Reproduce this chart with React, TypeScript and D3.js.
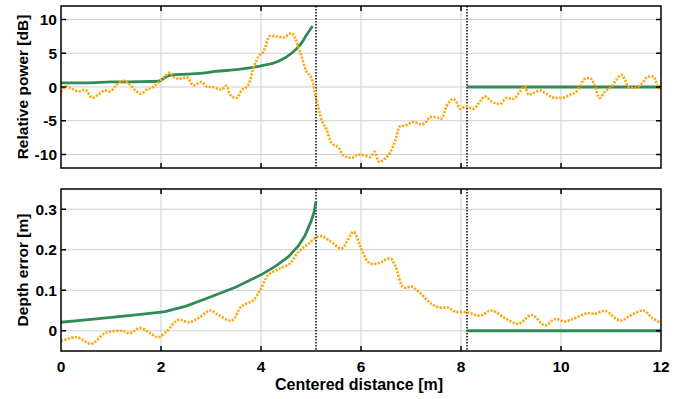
import { useEffect, useRef } from 'react';
import * as d3 from 'd3';

// x ticks shared by both panels
const xTicks = [0, 2, 4, 6, 8, 10, 12];
const powerTicks = [-10, -5, 0, 5, 10];
const depthTicks = [0, 0.1, 0.2, 0.3];
const boundaries = [5.1, 8.12];

// top panel: relative power [dB]
const powerModel: [number, number][] = [
  [0, 0.6], [0.5, 0.62], [1.0, 0.75], [1.5, 0.78], [1.95, 0.85], [2.1, 1.5], [2.2, 1.75],
  [2.5, 1.9], [2.88, 2.1], [3.08, 2.3], [3.55, 2.6], [3.98, 3.1], [4.35, 3.8], [4.61, 5.0],
  [4.81, 6.5], [4.91, 7.7], [5.03, 9.05],
];
const powerModelFar: [number, number][] = [[8.12, 0], [12, 0]];
const powerMeasured: [number, number][] = [
  [0, -0.8], [0.11, 0.09], [0.21, -0.25], [0.35, -0.65], [0.48, -0.4], [0.63, -1.6],
  [0.75, -1.1], [0.88, -0.5], [0.98, -0.65], [1.11, 0.34], [1.25, 0.93], [1.38, 0.34],
  [1.51, -0.65], [1.6, -1.0], [1.71, -0.4], [1.81, -0.15], [1.95, 0.68], [2.08, 1.56],
  [2.18, 2.15], [2.28, 1.33], [2.41, 1.23], [2.51, 1.48], [2.65, 0.24], [2.81, 0.74],
  [2.91, 0.09], [3.05, -0.05], [3.21, -0.4], [3.31, 0.19], [3.38, -1.14], [3.51, -1.63],
  [3.61, -0.5], [3.75, 0.34], [3.85, 2.8], [3.95, 4.52], [4.05, 5.26], [4.18, 7.58],
  [4.35, 7.47], [4.45, 7.33], [4.61, 7.98], [4.68, 7.24], [4.78, 5.26], [4.91, 2.3],
  [5.01, 1.33], [5.11, -1.88], [5.21, -4.83], [5.31, -6.3], [5.41, -8.27], [5.55, -9.0],
  [5.65, -10.15], [5.81, -10.5], [5.95, -10.0], [6.08, -10.15], [6.18, -10.4], [6.27, -9.6],
  [6.36, -11.1], [6.48, -10.6], [6.58, -9.75], [6.68, -8.03], [6.78, -5.82], [6.88, -5.72],
  [7.05, -5.17], [7.21, -5.57], [7.31, -5.08], [7.38, -4.43], [7.51, -4.49], [7.61, -4.68],
  [7.71, -2.87], [7.85, -1.77], [7.91, -2.27], [7.98, -3.25], [8.11, -2.87], [8.25, -3.25],
  [8.38, -2.13], [8.48, -1.39], [8.61, -2.13], [8.78, -2.51], [8.91, -1.63], [9.05, -1.77],
  [9.18, -0.65], [9.28, 0.09], [9.35, -1.14], [9.48, -0.79], [9.58, -0.5], [9.71, -1.03],
  [9.88, -1.63], [10.01, -1.63], [10.18, -1.14], [10.31, -0.65], [10.38, 0.09], [10.48, 1.23],
  [10.58, 1.33], [10.67, 0.34], [10.77, -1.63], [10.88, -0.65], [11.01, 0], [11.11, 1.08],
  [11.21, 1.82], [11.28, 1.08], [11.35, -0.05], [11.48, -0.15], [11.61, 0.44], [11.75, 1.56],
  [11.85, 1.56], [11.95, -0.15], [12, -0.3],
];

// bottom panel: depth error [m]
const depthModel: [number, number][] = [
  [0, 0.021], [0.5, 0.027], [1, 0.033], [1.5, 0.039], [2.0, 0.046], [2.08, 0.047],
  [2.5, 0.061], [3.0, 0.084], [3.5, 0.108], [4.0, 0.138], [4.3, 0.16], [4.55, 0.183],
  [4.75, 0.21], [4.88, 0.235], [5.0, 0.27], [5.06, 0.292], [5.1, 0.32],
];
const depthModelFar: [number, number][] = [[8.12, 0], [12, 0]];
const depthMeasured: [number, number][] = [
  [0, -0.026], [0.31, -0.016], [0.61, -0.032], [0.88, -0.006], [1.21, 0], [1.38, -0.006],
  [1.58, 0.007], [1.78, -0.006], [1.95, -0.016], [2.11, -0.002], [2.35, 0.027], [2.55, 0.021],
  [2.75, 0.031], [2.98, 0.05], [3.15, 0.039], [3.41, 0.025], [3.61, 0.06], [3.85, 0.076],
  [3.98, 0.1], [4.15, 0.138], [4.38, 0.154], [4.58, 0.166], [4.75, 0.195], [4.95, 0.215],
  [5.18, 0.234], [5.41, 0.219], [5.61, 0.203], [5.85, 0.244], [5.98, 0.21], [6.15, 0.169],
  [6.28, 0.165], [6.41, 0.17], [6.58, 0.179], [6.68, 0.162], [6.85, 0.107], [7.01, 0.109],
  [7.15, 0.097], [7.41, 0.066], [7.58, 0.057], [7.75, 0.057], [7.88, 0.047], [8.11, 0.046],
  [8.38, 0.037], [8.61, 0.05], [8.88, 0.031], [9.15, 0.017], [9.41, 0.039], [9.68, 0.013],
  [9.88, 0.029], [10.08, 0.023], [10.28, 0.031], [10.51, 0.043], [10.68, 0.042], [10.88, 0.049],
  [11.18, 0.025], [11.38, 0.037], [11.65, 0.05], [11.81, 0.033], [12, 0.018],
];

const green = '#2e8b57';
const orange = '#ffa60a';
const font = '"Liberation Sans", Arial, sans-serif';

export default function App() {
  const svgRef = useRef<SVGSVGElement>(null);

  useEffect(() => {
    if (!svgRef.current) return;
    const svg = d3.select(svgRef.current);
    svg.selectAll('*').remove();

    const left = 61;
    const right = 661;
    const x = d3.scaleLinear().domain([0, 12]).range([left, right]);

    const panels = [
      {
        top: 6, bottom: 168, domain: [-12, 12], ticks: powerTicks, fmt: (d: number) => `${d}`,
        label: 'Relative power [dB]', model: [powerModel, powerModelFar], measured: powerMeasured,
        smooth: d3.curveMonotoneX,
      },
      {
        top: 189, bottom: 351, domain: [-0.05, 0.35], ticks: depthTicks,
        fmt: (d: number) => (d === 0 ? '0' : d3.format('.1f')(d)),
        label: 'Depth error [m]', model: [depthModel, depthModelFar], measured: depthMeasured,
        smooth: d3.curveCatmullRom.alpha(0.5),
      },
    ];

    panels.forEach((p, pi) => {
      const y = d3.scaleLinear().domain(p.domain).range([p.bottom, p.top]);
      const g = svg.append('g');

      // grid
      g.selectAll('.vg')
        .data(xTicks.slice(1, -1))
        .enter()
        .append('line')
        .attr('x1', (d) => x(d)).attr('x2', (d) => x(d))
        .attr('y1', p.top).attr('y2', p.bottom)
        .attr('stroke', '#cfcfcf').attr('stroke-width', 1);
      g.selectAll('.hg')
        .data(p.ticks)
        .enter()
        .append('line')
        .attr('x1', left).attr('x2', right)
        .attr('y1', (d) => y(d)).attr('y2', (d) => y(d))
        .attr('stroke', '#cfcfcf').attr('stroke-width', 1);

      // boundaries
      boundaries.forEach((b) => {
        g.append('line')
          .attr('x1', x(b)).attr('x2', x(b))
          .attr('y1', p.top).attr('y2', p.bottom)
          .attr('stroke', '#111').attr('stroke-width', 1.6)
          .attr('stroke-dasharray', '1.5,1.5');
      });

      const line = d3.line<[number, number]>().x((d) => x(d[0])).y((d) => y(d[1]));

      p.model.forEach((seg) => {
        g.append('path')
          .attr('d', line.curve(pi === 0 ? d3.curveMonotoneX : d3.curveLinear)(seg) as string)
          .attr('fill', 'none')
          .attr('stroke', green)
          .attr('stroke-width', 2.8);
      });

      g.append('path')
        .attr('d', line.curve(p.smooth)(p.measured) as string)
        .attr('fill', 'none')
        .attr('stroke', orange)
        .attr('stroke-width', 2.6)
        .attr('stroke-dasharray', '2.2,1.4');

      // ticks (inward, all four sides)
      const tl = 5;
      xTicks.slice(1, -1).forEach((t) => {
        g.append('line').attr('x1', x(t)).attr('x2', x(t))
          .attr('y1', p.bottom).attr('y2', p.bottom - tl).attr('stroke', '#000').attr('stroke-width', 1.5);
        g.append('line').attr('x1', x(t)).attr('x2', x(t))
          .attr('y1', p.top).attr('y2', p.top + tl).attr('stroke', '#000').attr('stroke-width', 1.5);
      });
      p.ticks.forEach((t) => {
        g.append('line').attr('x1', left).attr('x2', left + tl)
          .attr('y1', y(t)).attr('y2', y(t)).attr('stroke', '#000').attr('stroke-width', 1.5);
        g.append('line').attr('x1', right).attr('x2', right - tl)
          .attr('y1', y(t)).attr('y2', y(t)).attr('stroke', '#000').attr('stroke-width', 1.5);
        g.append('text')
          .attr('x', left - 4).attr('y', y(t)).attr('dy', '0.36em')
          .attr('text-anchor', 'end')
          .attr('font-family', font).attr('font-weight', 'bold').attr('font-size', 15.5)
          .text(p.fmt(t));
      });

      // frame
      g.append('rect')
        .attr('x', left).attr('y', p.top)
        .attr('width', right - left).attr('height', p.bottom - p.top)
        .attr('fill', 'none').attr('stroke', '#000').attr('stroke-width', 1.5);

      g.append('text')
        .attr('transform', `translate(22,${(p.top + p.bottom) / 2}) rotate(-90)`)
        .attr('dy', '0.36em')
        .attr('text-anchor', 'middle')
        .attr('font-family', font).attr('font-weight', 'bold').attr('font-size', 15.5)
        .text(p.label);

      if (pi === 1) {
        xTicks.forEach((t) => {
          g.append('text')
            .attr('x', x(t)).attr('y', 372)
            .attr('text-anchor', 'middle')
            .attr('font-family', font).attr('font-weight', 'bold').attr('font-size', 15.5)
            .text(t);
        });
        g.append('text')
          .attr('x', 359).attr('y', 390)
          .attr('text-anchor', 'middle')
          .attr('font-family', font).attr('font-weight', 'bold').attr('font-size', 16)
          .text('Centered distance [m]');
      }
    });
  }, []);

  return (
    <svg
      ref={svgRef}
      width={692}
      height={399}
      style={{ position: 'absolute', left: 0, top: 0, background: '#fff', display: 'block' }}
    />
  );
}
